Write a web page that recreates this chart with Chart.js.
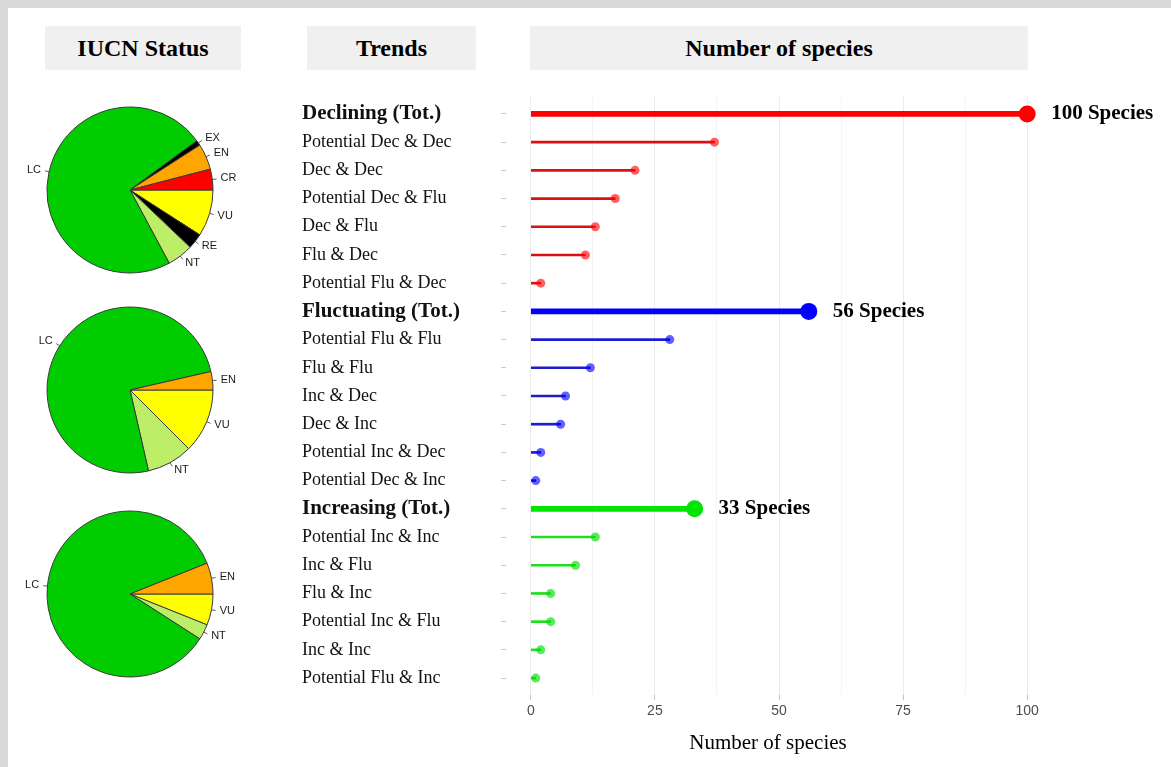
<!DOCTYPE html>
<html><head><meta charset="utf-8">
<script src="https://cdn.jsdelivr.net/npm/chart.js@4.4.1/dist/chart.umd.min.js"></script>
<style>
body{margin:0;width:1171px;height:767px;position:relative;background:#fff;overflow:hidden}
.band{position:absolute;background:#d9d9d9}
.hdr{position:absolute;top:26px;height:44px;background:#f0f0f0;font:bold 24px "Liberation Serif",serif;color:#000;display:flex;align-items:center;justify-content:center}
.wrap{position:absolute}
</style></head><body>
<div class="band" style="left:0;top:0;width:1171px;height:8px"></div>
<div class="band" style="left:0;top:0;width:8px;height:767px"></div>
<div class="hdr" style="left:45px;width:196px">IUCN Status</div>
<div class="hdr" style="left:307px;width:169px">Trends</div>
<div class="hdr" style="left:530px;width:498px">Number of species</div>
<div class="wrap" style="left:15px;top:95px;width:230px;height:190px"><canvas id="pie1"></canvas></div>
<div class="wrap" style="left:15px;top:295px;width:230px;height:190px"><canvas id="pie2"></canvas></div>
<div class="wrap" style="left:15px;top:499px;width:230px;height:190px"><canvas id="pie3"></canvas></div>
<div class="wrap" style="left:290px;top:80px;width:880px;height:687px"><canvas id="main"></canvas></div>
<script>
// ---- IUCN pie data ----
const pie1Labels = ['CR','EN','EX','LC','NT','RE','VU'];
const pie1Counts = [4,5,1,72,5,3,9];
const pie2Labels = ['EN','LC','NT','VU'];
const pie2Counts = [2,42,5,7];
const pie3Labels = ['EN','LC','NT','VU'];
const pie3Counts = [2,28,1,2];
const iucnColors = {CR:'#ff0000',EN:'#ffa500',EX:'#000000',LC:'#00cc00',NT:'#bcee68',RE:'#000000',VU:'#ffff00'};

// ---- Trend data ----
const groupNames = ['Declining (Tot.)','Fluctuating (Tot.)','Increasing (Tot.)'];
const groupTotals = [100,56,33];
const declLabels = ['Potential Dec & Dec','Dec & Dec','Potential Dec & Flu','Dec & Flu','Flu & Dec','Potential Flu & Dec'];
const declValues = [37,21,17,13,11,2];
const flucLabels = ['Potential Flu & Flu','Flu & Flu','Inc & Dec','Dec & Inc','Potential Inc & Dec','Potential Dec & Inc'];
const flucValues = [28,12,7,6,2,1];
const incLabels = ['Potential Inc & Inc','Inc & Flu','Flu & Inc','Potential Inc & Flu','Inc & Inc','Potential Flu & Inc'];
const incValues = [13,9,4,4,2,1];
const xTickValues = [0,12.5,25,37.5,50,62.5,75,87.5,100];

const groupColors = [
  {main:'#ff0000', line:'#dc1010', dot:'rgba(255,0,0,0.62)'},
  {main:'#0000ff', line:'#1c1cd0', dot:'rgba(0,0,255,0.62)'},
  {main:'#00e600', line:'#20dd20', dot:'rgba(0,225,0,0.65)'}
];

// ---- Pies ----
const pieLabelPlugin = {
  id:'pieLabels',
  afterDatasetsDraw(chart){
    const ctx = chart.ctx, meta = chart.getDatasetMeta(0), labels = chart.data.labels;
    ctx.save();
    ctx.font = '11px "Liberation Sans", Arial, sans-serif';
    ctx.fillStyle = '#1a1a1a'; ctx.strokeStyle = '#333'; ctx.lineWidth = 0.8;
    meta.data.forEach((arc,i)=>{
      const p = arc.getProps(['x','y','startAngle','endAngle','outerRadius'], true);
      const a = (p.startAngle + p.endAngle)/2, c = Math.cos(a), s = Math.sin(a), r = p.outerRadius;
      ctx.beginPath(); ctx.moveTo(p.x+c*r, p.y+s*r); ctx.lineTo(p.x+c*r*1.05, p.y+s*r*1.05); ctx.stroke();
      ctx.textAlign = c < 0 ? 'right' : 'left'; ctx.textBaseline = 'middle';
      ctx.fillText(labels[i], p.x + c*r*1.1, p.y + s*r*1.1);
    });
    ctx.restore();
  }
};
function makePie(id, labels, counts){
  const lab = labels.slice().reverse(), cnt = counts.slice().reverse();
  new Chart(document.getElementById(id), {
    type:'pie',
    data:{labels:lab, datasets:[{data:cnt, backgroundColor:lab.map(l=>iucnColors[l]), borderColor:'#3a3a3a', borderWidth:1}]},
    options:{responsive:true, maintainAspectRatio:false, animation:false, events:[], rotation:90,
      layout:{padding:{left:31.5,right:31.5,top:11.5,bottom:11.5}},
      plugins:{legend:{display:false}, tooltip:{enabled:false}}},
    plugins:[pieLabelPlugin]
  });
}
makePie('pie1', pie1Labels, pie1Counts);
makePie('pie2', pie2Labels, pie2Counts);
makePie('pie3', pie3Labels, pie3Counts);

// ---- Lollipop chart ----
const rowLabels = [], rowValues = [], rowGroup = [], rowTotal = [];
[[declLabels,declValues],[flucLabels,flucValues],[incLabels,incValues]].forEach(([ls,vs],g)=>{
  rowLabels.push(groupNames[g]); rowValues.push(groupTotals[g]); rowGroup.push(g); rowTotal.push(true);
  ls.forEach((l,i)=>{ rowLabels.push(l); rowValues.push(vs[i]); rowGroup.push(g); rowTotal.push(false); });
});
const rows = rowLabels.map((_,i)=>i+1);
const totalData = [], subData = [], totalCol = [], subCol = [];
rows.forEach((r,i)=>{
  if (rowTotal[i]) { totalData.push({x:rowValues[i], y:r}); totalCol.push(groupColors[rowGroup[i]].main); }
  else { subData.push({x:rowValues[i], y:r}); subCol.push(groupColors[rowGroup[i]].line); }
});
const pointData = rows.map((r,i)=>({x:rowValues[i], y:r}));

const totalLabelPlugin = {
  id:'totalLabels',
  afterDatasetsDraw(chart){
    const ctx = chart.ctx, xs = chart.scales.x, ys = chart.scales.y;
    ctx.save();
    ctx.font = 'bold 21px "Liberation Serif", serif'; ctx.fillStyle = '#000';
    ctx.textAlign = 'left'; ctx.textBaseline = 'middle';
    rows.forEach((r,i)=>{
      if (!rowTotal[i]) return;
      ctx.fillText(rowValues[i] + ' Species', xs.getPixelForValue(rowValues[i]) + 24, ys.getPixelForValue(r));
    });
    ctx.font = '21px "Liberation Serif", serif'; ctx.textAlign = 'center';
    ctx.fillText('Number of species', 478, 663);
    ctx.restore();
  }
};

new Chart(document.getElementById('main'), {
  type:'bar',
  data:{datasets:[
    {type:'scatter', data:pointData, order:0,
      pointRadius:rows.map((_,i)=>rowTotal[i]?8.5:4.5),
      pointBackgroundColor:rows.map((_,i)=>rowTotal[i]?groupColors[rowGroup[i]].main:groupColors[rowGroup[i]].dot),
      pointBorderWidth:0},
    {type:'bar', indexAxis:'y', data:totalData, backgroundColor:totalCol, barThickness:5, grouped:false, order:1},
    {type:'bar', indexAxis:'y', data:subData, backgroundColor:subCol, barThickness:2, grouped:false, order:1}
  ]},
  options:{
    responsive:true, maintainAspectRatio:false, animation:false, events:[],
    layout:{padding:{left:12,right:118,top:17,bottom:13}},
    plugins:{legend:{display:false}, tooltip:{enabled:false}},
    scales:{
      x:{type:'linear', position:'bottom', min:-5, max:105, offset:false,
        afterBuildTicks:s=>{ s.ticks = xTickValues.map(v=>({value:v})); },
        afterFit:s=>{ s.height = 59; },
        border:{display:false},
        grid:{offset:false, color:c=>(c.tick && c.tick.value%25===0)?'#ebebeb':'#f4f4f4', lineWidth:1,
          tickColor:c=>(c.tick && c.tick.value%25===0)?'#c4c4c4':'rgba(0,0,0,0)', tickLength:5},
        ticks:{autoSkip:false, maxRotation:0, padding:3, color:'#4d4d4d',
          font:{family:'"Liberation Sans", Arial, sans-serif', size:14},
          callback:v=>(v%25===0)?String(v):''}
      },
      y:{type:'linear', position:'left', reverse:true, min:0.4, max:21.6, offset:false,
        afterBuildTicks:s=>{ s.ticks = rows.map(v=>({value:v})); },
        afterFit:s=>{ s.width = 204; },
        border:{display:false},
        grid:{offset:false, drawOnChartArea:false, tickLength:5, tickColor:'#c8c8c8'},
        ticks:{autoSkip:false, crossAlign:'far', color:'#111',
          font:c=>(c.tick && rowTotal[c.tick.value-1])?{family:'"Liberation Serif", serif', size:21, weight:'bold'}:{family:'"Liberation Serif", serif', size:18},
          callback:v=>rowLabels[v-1]}
      }
    }
  },
  plugins:[totalLabelPlugin]
});
</script>
</body></html>
